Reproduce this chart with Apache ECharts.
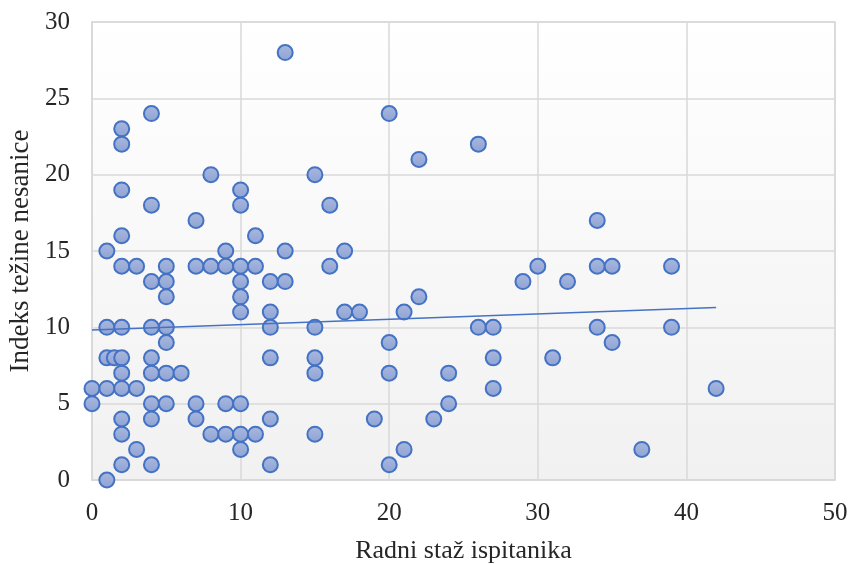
<!DOCTYPE html>
<html>
<head>
<meta charset="utf-8">
<script src="https://cdn.jsdelivr.net/npm/echarts@6/dist/echarts.min.js"></script>
<style>
  html, body { margin: 0; padding: 0; background: #fff; }
  #chart { width: 850px; height: 564px; }
</style>
</head>
<body>
<div id="chart"></div>
<script>
// radni staž (godine) i indeks težine nesanice, očitano sa slike
const stazX = [
  0, 0,
  1, 1, 1, 1, 1, 1.5,
  2, 2, 2, 2, 2, 2, 2, 2, 2, 2, 2, 2,
  3, 3, 3,
  4, 4, 4, 4, 4, 4, 4, 4, 4,
  5, 5, 5, 5, 5, 5, 5,
  6,
  7, 7, 7, 7,
  8, 8, 8,
  9, 9, 9, 9,
  10, 10, 10, 10, 10, 10, 10, 10, 10,
  11, 11, 11,
  12, 12, 12, 12, 12, 12,
  13, 13, 13,
  15, 15, 15, 15, 15,
  16, 16,
  17, 17,
  18, 19,
  20, 20, 20, 20,
  21, 21,
  22, 22,
  23,
  24, 24,
  26, 26,
  27, 27, 27,
  29, 30, 31, 32,
  34, 34, 34,
  35, 35,
  37,
  39, 39,
  42
]
const indeksY = [
  6, 5,
  15, 10, 8, 6, 0, 8,
  23, 22, 19, 16, 14, 10, 8, 7, 6, 4, 3, 1,
  14, 6, 2,
  24, 18, 13, 10, 8, 7, 5, 4, 1,
  14, 13, 12, 10, 9, 7, 5,
  7,
  17, 14, 5, 4,
  20, 14, 3,
  15, 14, 5, 3,
  19, 18, 14, 13, 12, 11, 5, 3, 2,
  16, 14, 3,
  13, 11, 10, 8, 4, 1,
  28, 15, 13,
  20, 10, 8, 7, 3,
  18, 14,
  15, 11,
  11, 4,
  24, 9, 7, 1,
  11, 2,
  21, 12,
  4,
  7, 5,
  22, 10,
  10, 8, 6,
  13, 14, 8, 13,
  17, 14, 10,
  14, 9,
  2,
  14, 10,
  6
]
const xTicks = [0, 10, 20, 30, 40, 50]
const yTicks = [0, 5, 10, 15, 20, 25, 30]

const points = stazX.map((x, i) => [x, indeksY[i]])

// linearni trend (najmanji kvadrati)
const n = points.length
const mx = stazX.reduce((s, v) => s + v, 0) / n
const my = indeksY.reduce((s, v) => s + v, 0) / n
let sxy = 0, sxx = 0
points.forEach(p => {
  sxy += (p[0] - mx) * (p[1] - my)
  sxx += (p[0] - mx) * (p[0] - mx)
})
const slope = sxy / sxx
const intercept = my - slope * mx
const xMin = Math.min(...stazX)
const xMax = Math.max(...stazX)
const trend = [[xMin, intercept + slope * xMin], [xMax, intercept + slope * xMax]]

const font = '"Liberation Serif", "Times New Roman", serif'
const textColor = '#262626'

const chart = echarts.init(document.getElementById('chart'), null, { renderer: 'canvas' })
chart.setOption({
  animation: false,
  grid: {
    left: 92, right: 15, top: 22, bottom: 84,
    outerBoundsMode: 'none',
    containLabel: false,
    show: true,
    borderColor: '#d9d9d9',
    borderWidth: 1.5,
    backgroundColor: new echarts.graphic.LinearGradient(0, 0, 0, 1, [
      { offset: 0, color: '#ffffff' },
      { offset: 1, color: '#f1f1f1' }
    ])
  },
  xAxis: {
    type: 'value',
    min: xTicks[0],
    max: xTicks[xTicks.length - 1],
    interval: 10,
    name: 'Radni staž ispitanika',
    nameLocation: 'middle',
    nameGap: 58,
    nameTextStyle: { fontFamily: font, fontSize: 26, color: textColor },
    axisLine: { lineStyle: { color: '#d9d9d9', width: 1.5 } },
    axisTick: { show: false },
    axisLabel: { fontFamily: font, fontSize: 25, color: textColor, margin: 21 },
    splitLine: { lineStyle: { color: '#d9d9d9', width: 1.5 } }
  },
  yAxis: {
    type: 'value',
    min: yTicks[0],
    max: yTicks[yTicks.length - 1],
    interval: 5,
    name: 'Indeks težine nesanice',
    nameLocation: 'middle',
    nameGap: 58,
    nameTextStyle: { fontFamily: font, fontSize: 27, color: textColor },
    axisLine: { show: true, lineStyle: { color: '#d9d9d9', width: 1.5 } },
    axisTick: { show: false },
    axisLabel: { fontFamily: font, fontSize: 25, color: textColor, margin: 22 },
    splitLine: { lineStyle: { color: '#d9d9d9', width: 1.5 } }
  },
  series: [
    {
      name: 'Trend',
      type: 'line',
      data: trend,
      symbol: 'none',
      lineStyle: { color: '#4472c4', width: 1.5 },
      z: 3
    },
    {
      name: 'Ispitanici',
      type: 'scatter',
      data: points,
      symbol: 'circle',
      symbolSize: 15,
      itemStyle: {
        color: new echarts.graphic.LinearGradient(0, 0, 0, 1, [
          { offset: 0, color: '#a9b8de' },
          { offset: 1, color: '#8ea3d4' }
        ]),
        borderColor: '#4472c4',
        borderWidth: 2,
        opacity: 1
      },
      z: 2
    }
  ]
})
</script>
</body>
</html>
